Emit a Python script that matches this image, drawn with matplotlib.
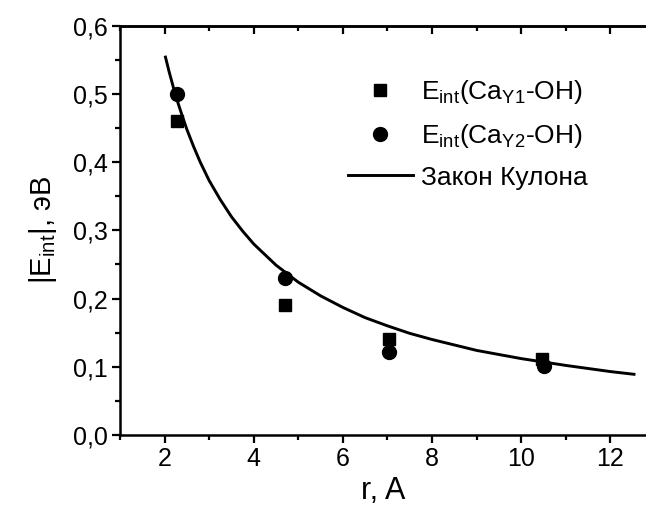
import matplotlib
matplotlib.use("Agg")
import matplotlib.pyplot as plt
from matplotlib.ticker import MultipleLocator, FuncFormatter

# ─── Data ───────────────────────────────────────────────
r_y1 = [2.28, 4.71, 7.04, 10.46]
e_y1 = [0.46, 0.19, 0.14, 0.112]

r_y2 = [2.27, 4.71, 7.04, 10.52]
e_y2 = [0.50, 0.23, 0.121, 0.101]

# Coulomb curve, points
r_coul = [2.02, 2.1, 2.2, 2.3, 2.4, 2.5, 2.65, 2.8, 3.0, 3.25, 3.5, 3.75, 4.0,
          4.5, 5.0, 5.5, 6.0, 6.5, 7.0, 7.5, 8.0, 9.0, 10.0, 11.0, 12.0, 12.53]
e_coul = [0.554, 0.533, 0.509, 0.487, 0.467, 0.448, 0.423, 0.400, 0.373, 0.345,
          0.320, 0.299, 0.280, 0.249, 0.224, 0.204, 0.187, 0.172, 0.160, 0.149,
          0.140, 0.124, 0.112, 0.102, 0.093, 0.089]

labels = [r"E$_{\mathrm{int}}$(Ca$_{\mathrm{Y1}}$-OH)",
          r"E$_{\mathrm{int}}$(Ca$_{\mathrm{Y2}}$-OH)",
          "Закон Кулона"]

# ─── Style ──────────────────────────────────────────────
plt.rcParams["font.family"] = ["Liberation Sans", "DejaVu Sans"]
plt.rcParams["mathtext.fontset"] = "custom"
plt.rcParams["mathtext.rm"] = "Liberation Sans"
plt.rcParams["mathtext.it"] = "Liberation Sans:italic"
plt.rcParams["mathtext.bf"] = "Liberation Sans:bold"

W, H = 646, 513
fig = plt.figure(figsize=(W / 100, H / 100), dpi=100)
ax = fig.add_axes([120 / W, 1 - 435 / H, 1 - 120 / W, (435 - 25.7) / H])

ax.plot(r_y1, e_y1, ls="none", marker="s", ms=9, color="black", label=labels[0])
ax.plot(r_y2, e_y2, ls="none", marker="o", ms=10, color="black", label=labels[1])
ax.plot(r_coul, e_coul, color="black", lw=2.1, label=labels[2])

ax.set_xlim(1.0, 12.8)
ax.set_ylim(0, 0.6)

ax.xaxis.set_major_locator(MultipleLocator(2))
ax.xaxis.set_minor_locator(MultipleLocator(1))
ax.yaxis.set_major_locator(MultipleLocator(0.1))
ax.yaxis.set_minor_locator(MultipleLocator(0.05))
ax.yaxis.set_major_formatter(FuncFormatter(lambda v, p: f"{v:.1f}".replace(".", ",")))

for side in ["left", "bottom", "top"]:
    ax.spines[side].set_linewidth(1.8)
ax.spines["right"].set_visible(False)

ax.tick_params(which="both", direction="out", width=1.6, labelsize=18)
ax.tick_params(which="major", length=6)
ax.tick_params(which="minor", length=3.5)
ax.tick_params(axis="x", pad=3)
ax.tick_params(axis="y", pad=3)

# top ticks point down into the plot
top = ax.secondary_xaxis("top")
top.xaxis.set_major_locator(MultipleLocator(2))
top.xaxis.set_minor_locator(MultipleLocator(1))
top.tick_params(which="both", direction="in", width=1.6, labeltop=False)
top.tick_params(which="major", length=6)
top.tick_params(which="minor", length=3.5)
top.spines["top"].set_linewidth(1.8)

ax.set_xlabel("r, A", fontsize=22, labelpad=3)
ax.set_ylabel(r"|E$_{\mathrm{int}}$|, эВ", fontsize=21, labelpad=10)

ax.legend(loc="upper left", bbox_to_anchor=(348 / W, 1 - 78 / H),
          bbox_transform=fig.transFigure, frameon=False, fontsize=19,
          handlelength=2.45, handletextpad=0.3, labelspacing=0.6,
          borderpad=0, borderaxespad=0)

fig.savefig("out.png", dpi=100)
